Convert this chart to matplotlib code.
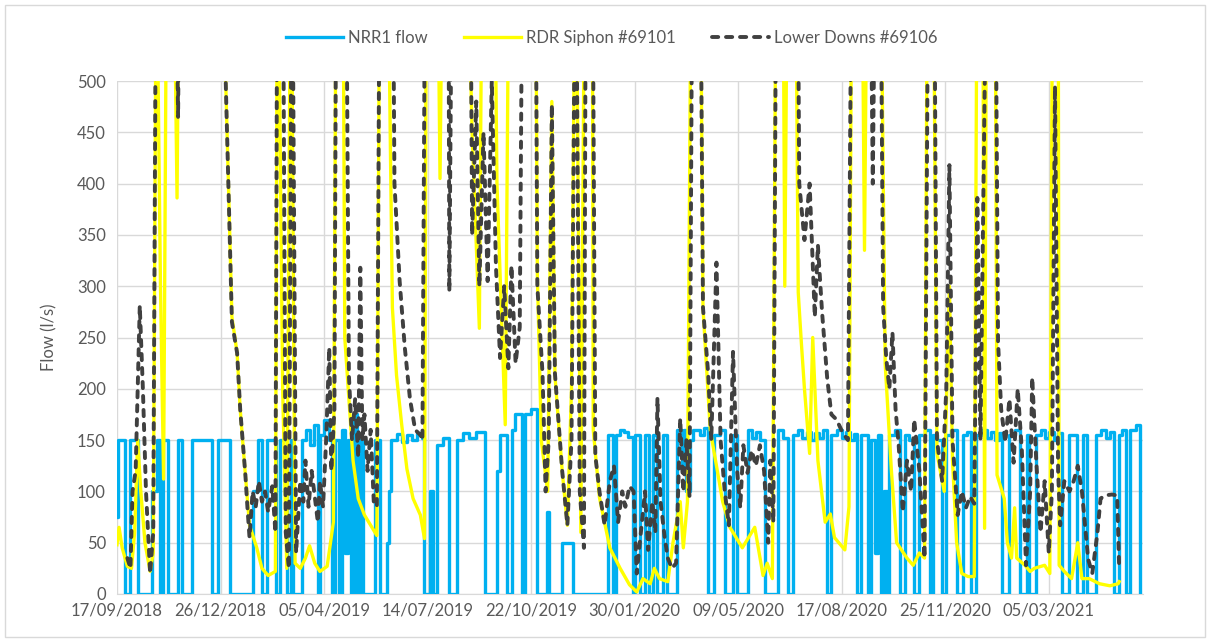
import numpy as np
import matplotlib
matplotlib.use("Agg")
import matplotlib.pyplot as plt
import matplotlib.dates as mdates
from matplotlib.patches import Rectangle

plt.rcParams['font.family'] = ['Lato', 'DejaVu Sans']

START = np.datetime64('2018-09-17')

# ---- NRR1 flow (step series): day offset from 17/09/2018, value (l/s)
nrr1_days = [0, 1, 8, 13, 20, 34, 39, 42, 44, 49,
             59, 63, 72, 80, 92, 98, 109, 131, 136, 140,
             145, 154, 157, 164, 168, 170, 179, 183, 186, 190,
             194, 196, 200, 205, 208, 211, 214, 217, 220, 223,
             226, 229, 232, 235, 238, 249, 254, 261, 263, 265,
             270, 275, 280, 285, 290, 295, 297, 302, 305, 309,
             315, 321, 328, 334, 340, 347, 355, 367, 370, 377,
             382, 384, 391, 394, 400, 406, 415, 417, 430, 440,
             474, 479, 482, 486, 490, 494, 498, 500, 505, 510,
             514, 518, 522, 527, 531, 541, 546, 548, 550, 553,
             556, 563, 567, 571, 577, 582, 587, 595, 599, 609,
             613, 617, 621, 626, 638, 643, 648, 653, 658, 662,
             666, 670, 674, 678, 682, 686, 690, 695, 700, 704,
             708, 712, 715, 719, 725, 728, 732, 735, 738, 741,
             744, 746, 751, 756, 761, 765, 770, 775, 780, 785,
             788, 792, 797, 801, 806, 811, 817, 821, 825, 830,
             835, 840, 844, 848, 852, 855, 862, 867, 872, 879,
             881, 888, 892, 896, 900, 905, 909, 913, 920, 927,
             933, 937, 946, 950, 955, 959, 963, 968, 971, 975,
             978, 984, 988]
nrr1_vals = [75, 150, 0, 150, 0, 100, 150, 0, 150, 0,
             150, 0, 150, 150, 0, 150, 0, 100, 150, 0,
             150, 0, 150, 0, 150, 0, 150, 160, 145, 165,
             0, 155, 170, 150, 0, 150, 0, 160, 40, 150,
             0, 175, 0, 150, 0, 150, 0, 50, 100, 150,
             156, 148, 155, 150, 157, 152, 0, 100, 0, 145,
             152, 0, 150, 157, 152, 158, 0, 120, 155, 0,
             160, 175, 0, 175, 180, 0, 80, 0, 50, 0,
             155, 0, 155, 160, 158, 153, 0, 155, 0, 155,
             0, 155, 0, 155, 0, 160, 120, 160, 100, 150,
             160, 155, 162, 0, 155, 160, 0, 155, 0, 160,
             152, 158, 150, 0, 160, 152, 0, 155, 160, 152,
             158, 150, 157, 152, 160, 0, 155, 160, 152, 158,
             150, 156, 0, 155, 0, 150, 40, 155, 0, 100,
             0, 155, 160, 0, 155, 150, 0, 155, 160, 0,
             155, 150, 0, 155, 160, 0, 155, 158, 0, 155,
             160, 152, 158, 150, 157, 0, 155, 160, 0, 155,
             0, 155, 160, 152, 158, 150, 157, 0, 155, 0,
             155, 0, 155, 160, 152, 158, 0, 155, 160, 0,
             160, 165, 0]

# ---- RDR Siphon #69101: day offset, value (l/s)
rdr_days = [0, 2, 5, 10, 14, 17, 20, 23, 27, 32, 35, 38, 42, 45, 48, 54, 58, 60, 102, 105, 111,
            116, 119, 124, 128, 135, 140, 146, 153, 155, 160, 164, 168, 172, 177, 182, 186, 191,
            196, 203, 209, 212, 215, 218, 220, 228, 233, 239, 251, 254, 261, 264, 266, 270, 275,
            280, 286, 293, 297, 299, 309, 312, 315, 337, 343, 350, 353, 364, 367, 375, 379, 391,
            404, 406, 410, 416, 420, 423, 430, 435, 439, 443, 448, 452, 459, 460, 466, 476, 486,
            495, 502, 508, 515, 519, 524, 532, 537, 544, 547, 551, 555, 563, 566, 573, 585, 592,
            604, 616, 624, 628, 633, 637, 643, 645, 648, 655, 658, 661, 664, 669, 672, 677, 684,
            689, 693, 703, 707, 710, 719, 722, 725, 737, 742, 748, 753, 763, 769, 775, 780, 783,
            788, 792, 799, 804, 807, 811, 816, 822, 828, 831, 836, 838, 840, 848, 850, 857, 860,
            864, 867, 869, 877, 882, 886, 896, 901, 904, 909, 910, 915, 922, 928, 932, 939, 949,
            959, 967, 968]
rdr_vals = [48, 65, 45, 27, 25, 60, 150, 100, 50, 22, 40, 650, 300, 112, 650, 700, 386, 650, 650, 500, 270,
            235, 180, 116, 67, 45, 25, 18, 22, 700, 200, 25, 700, 30, 25, 35, 47, 30,
            22, 27, 70, 700, 600, 700, 250, 130, 93, 77, 57, 700, 700, 440, 279, 213, 165,
            122, 93, 77, 54, 700, 700, 405, 700, 700, 450, 259, 700, 700, 400, 165, 700, 700,
            700, 311, 148, 100, 480, 213, 120, 67, 200, 700, 60, 700, 700, 160, 94, 45, 25,
            9, 2, 15, 10, 25, 15, 12, 50, 90, 45, 90, 700, 700, 279, 160, 90, 65,
            45, 65, 18, 30, 15, 700, 700, 300, 700, 700, 294, 245, 200, 137, 250, 130, 70,
            78, 55, 43, 85, 700, 700, 335, 700, 700, 224, 120, 50, 35, 28, 40, 35, 700,
            700, 137, 100, 300, 130, 50, 20, 17, 17, 700, 700, 64, 700, 700, 116, 93, 50,
            35, 84, 35, 28, 22, 25, 28, 20, 700, 700, 28, 22, 15, 50, 15, 15, 10,
            8, 10, 12]

# ---- Lower Downs #69106: day offset, value (l/s)
ld_days = [10, 13, 15, 18, 22, 25, 28, 32, 35, 38, 42, 45, 48, 56, 59, 61, 102, 105, 111, 116, 119,
           124, 126, 128, 131, 134, 137, 140, 143, 146, 150, 153, 155, 160, 163, 166, 169, 173,
           177, 180, 182, 185, 188, 191, 194, 196, 199, 202, 205, 207, 210, 212, 221, 224, 227,
           230, 233, 235, 237, 239, 242, 245, 248, 251, 254, 266, 268, 273, 278, 283, 288, 293,
           295, 298, 320, 321, 324, 341, 343, 347, 350, 354, 358, 362, 366, 370, 374, 378, 381,
           385, 389, 392, 404, 406, 411, 414, 417, 420, 423, 430, 435, 439, 443, 447, 451, 453,
           459, 462, 466, 471, 476, 480, 484, 488, 491, 495, 499, 502, 506, 510, 513, 517, 520,
           522, 525, 529, 532, 536, 540, 544, 547, 550, 553, 556, 563, 566, 571, 574, 579, 583,
           587, 591, 595, 599, 602, 605, 609, 613, 617, 621, 625, 629, 631, 634, 637, 657, 659,
           664, 669, 674, 677, 681, 686, 690, 695, 701, 706, 710, 727, 730, 733, 737, 740, 743,
           746, 749, 752, 755, 759, 763, 767, 770, 775, 780, 784, 789, 792, 797, 801, 804, 807,
           812, 816, 820, 824, 828, 831, 834, 838, 841, 848, 851, 854, 858, 862, 866, 870, 874,
           878, 882, 884, 888, 892, 896, 900, 903, 906, 909, 911, 915, 920, 924, 928, 932, 938,
           942, 947, 950, 954, 961, 966, 968]
ld_vals = [35, 25, 100, 120, 281, 200, 100, 20, 60, 700, 650, 600, 700, 700, 465, 700, 700, 500, 265, 235, 180,
           116, 84, 55, 100, 85, 110, 90, 100, 80, 105, 60, 700, 700, 60, 25, 700, 40,
           110, 90, 130, 85, 120, 95, 70, 110, 85, 150, 240, 120, 180, 700, 700, 213, 150,
           190, 133, 318, 150, 175, 120, 160, 90, 85, 700, 700, 400, 305, 240, 190, 160, 155,
           150, 700, 700, 295, 700, 700, 350, 480, 300, 450, 305, 500, 320, 230, 300, 220, 320,
           225, 260, 700, 700, 300, 215, 100, 150, 477, 215, 120, 67, 150, 700, 100, 45, 700,
           700, 135, 100, 67, 110, 125, 70, 100, 85, 105, 100, 20, 60, 100, 43, 90, 60,
           191, 90, 55, 35, 25, 30, 171, 100, 150, 95, 700, 700, 279, 215, 150, 323, 150,
           100, 67, 236, 120, 84, 145, 118, 140, 125, 145, 120, 50, 130, 70, 700, 700, 400,
           345, 400, 270, 340, 275, 210, 175, 170, 157, 150, 700, 700, 400, 700, 700, 280, 230,
           200, 255, 180, 145, 80, 130, 100, 170, 120, 35, 700, 700, 150, 110, 200, 418, 150,
           77, 100, 84, 95, 88, 386, 150, 488, 700, 700, 246, 180, 148, 190, 128, 200, 140,
           28, 100, 211, 128, 60, 110, 40, 100, 495, 120, 67, 110, 100, 110, 125, 100, 34,
           20, 60, 93, 96, 97, 96, 25]

y_ticks = [0, 50, 100, 150, 200, 250, 300, 350, 400, 450, 500]
x_tick_days = [0, 100, 200, 300, 400, 500, 600, 700, 800, 900]


def to_dates(days):
    return START + np.array(days).astype('timedelta64[D]')


fig = plt.figure(figsize=(12.10, 6.42), dpi=100)
fig.patches.append(Rectangle((5 / 1210, 5 / 642), 1 - 10 / 1210, 1 - 10 / 642,
                             transform=fig.transFigure, fill=False,
                             edgecolor='#D9D9D9', linewidth=1.0))
ax = fig.add_axes([117 / 1210, 48 / 642, (1143 - 117) / 1210, (594 - 81) / 642])

grid_c = '#D9D9D9'
text_c = '#595959'

ax.plot(to_dates(nrr1_days), nrr1_vals, color='#00B0F0', lw=2.4, drawstyle='steps-post',
        label='NRR1 flow', zorder=3)
ax.plot(to_dates(rdr_days), rdr_vals, color='#FFFF00', lw=2.4, label='RDR Siphon #69101',
        zorder=4)
ax.plot(to_dates(ld_days), ld_vals, color='#404040', lw=2.8, dashes=(1.6, 2.0),
        dash_capstyle='round', label='Lower Downs #69106', zorder=5)

ax.set_ylim(0, 500)
ax.set_xlim(START, START + np.timedelta64(991, 'D'))
ax.set_yticks(y_ticks)
ax.set_xticks(to_dates(x_tick_days))
ax.xaxis.set_major_formatter(mdates.DateFormatter('%d/%m/%Y'))

ax.grid(True, color=grid_c, lw=1.0, zorder=0)
ax.set_axisbelow(True)
for s in ['top', 'right', 'left']:
    ax.spines[s].set_visible(False)
ax.spines['bottom'].set_color(grid_c)
ax.tick_params(axis='both', length=0, labelsize=12, colors=text_c, pad=8)
ax.tick_params(axis='x', pad=6)
ax.set_ylabel('Flow (l/s)', fontsize=12, color=text_c, labelpad=14)

fig.legend(loc='center', bbox_to_anchor=(612 / 1210, 1 - 38 / 642), ncol=3, frameon=False,
           fontsize=12, handlelength=3.4, handletextpad=0.3, columnspacing=2.2,
           labelcolor=text_c)

fig.savefig('out.png', dpi=100)
